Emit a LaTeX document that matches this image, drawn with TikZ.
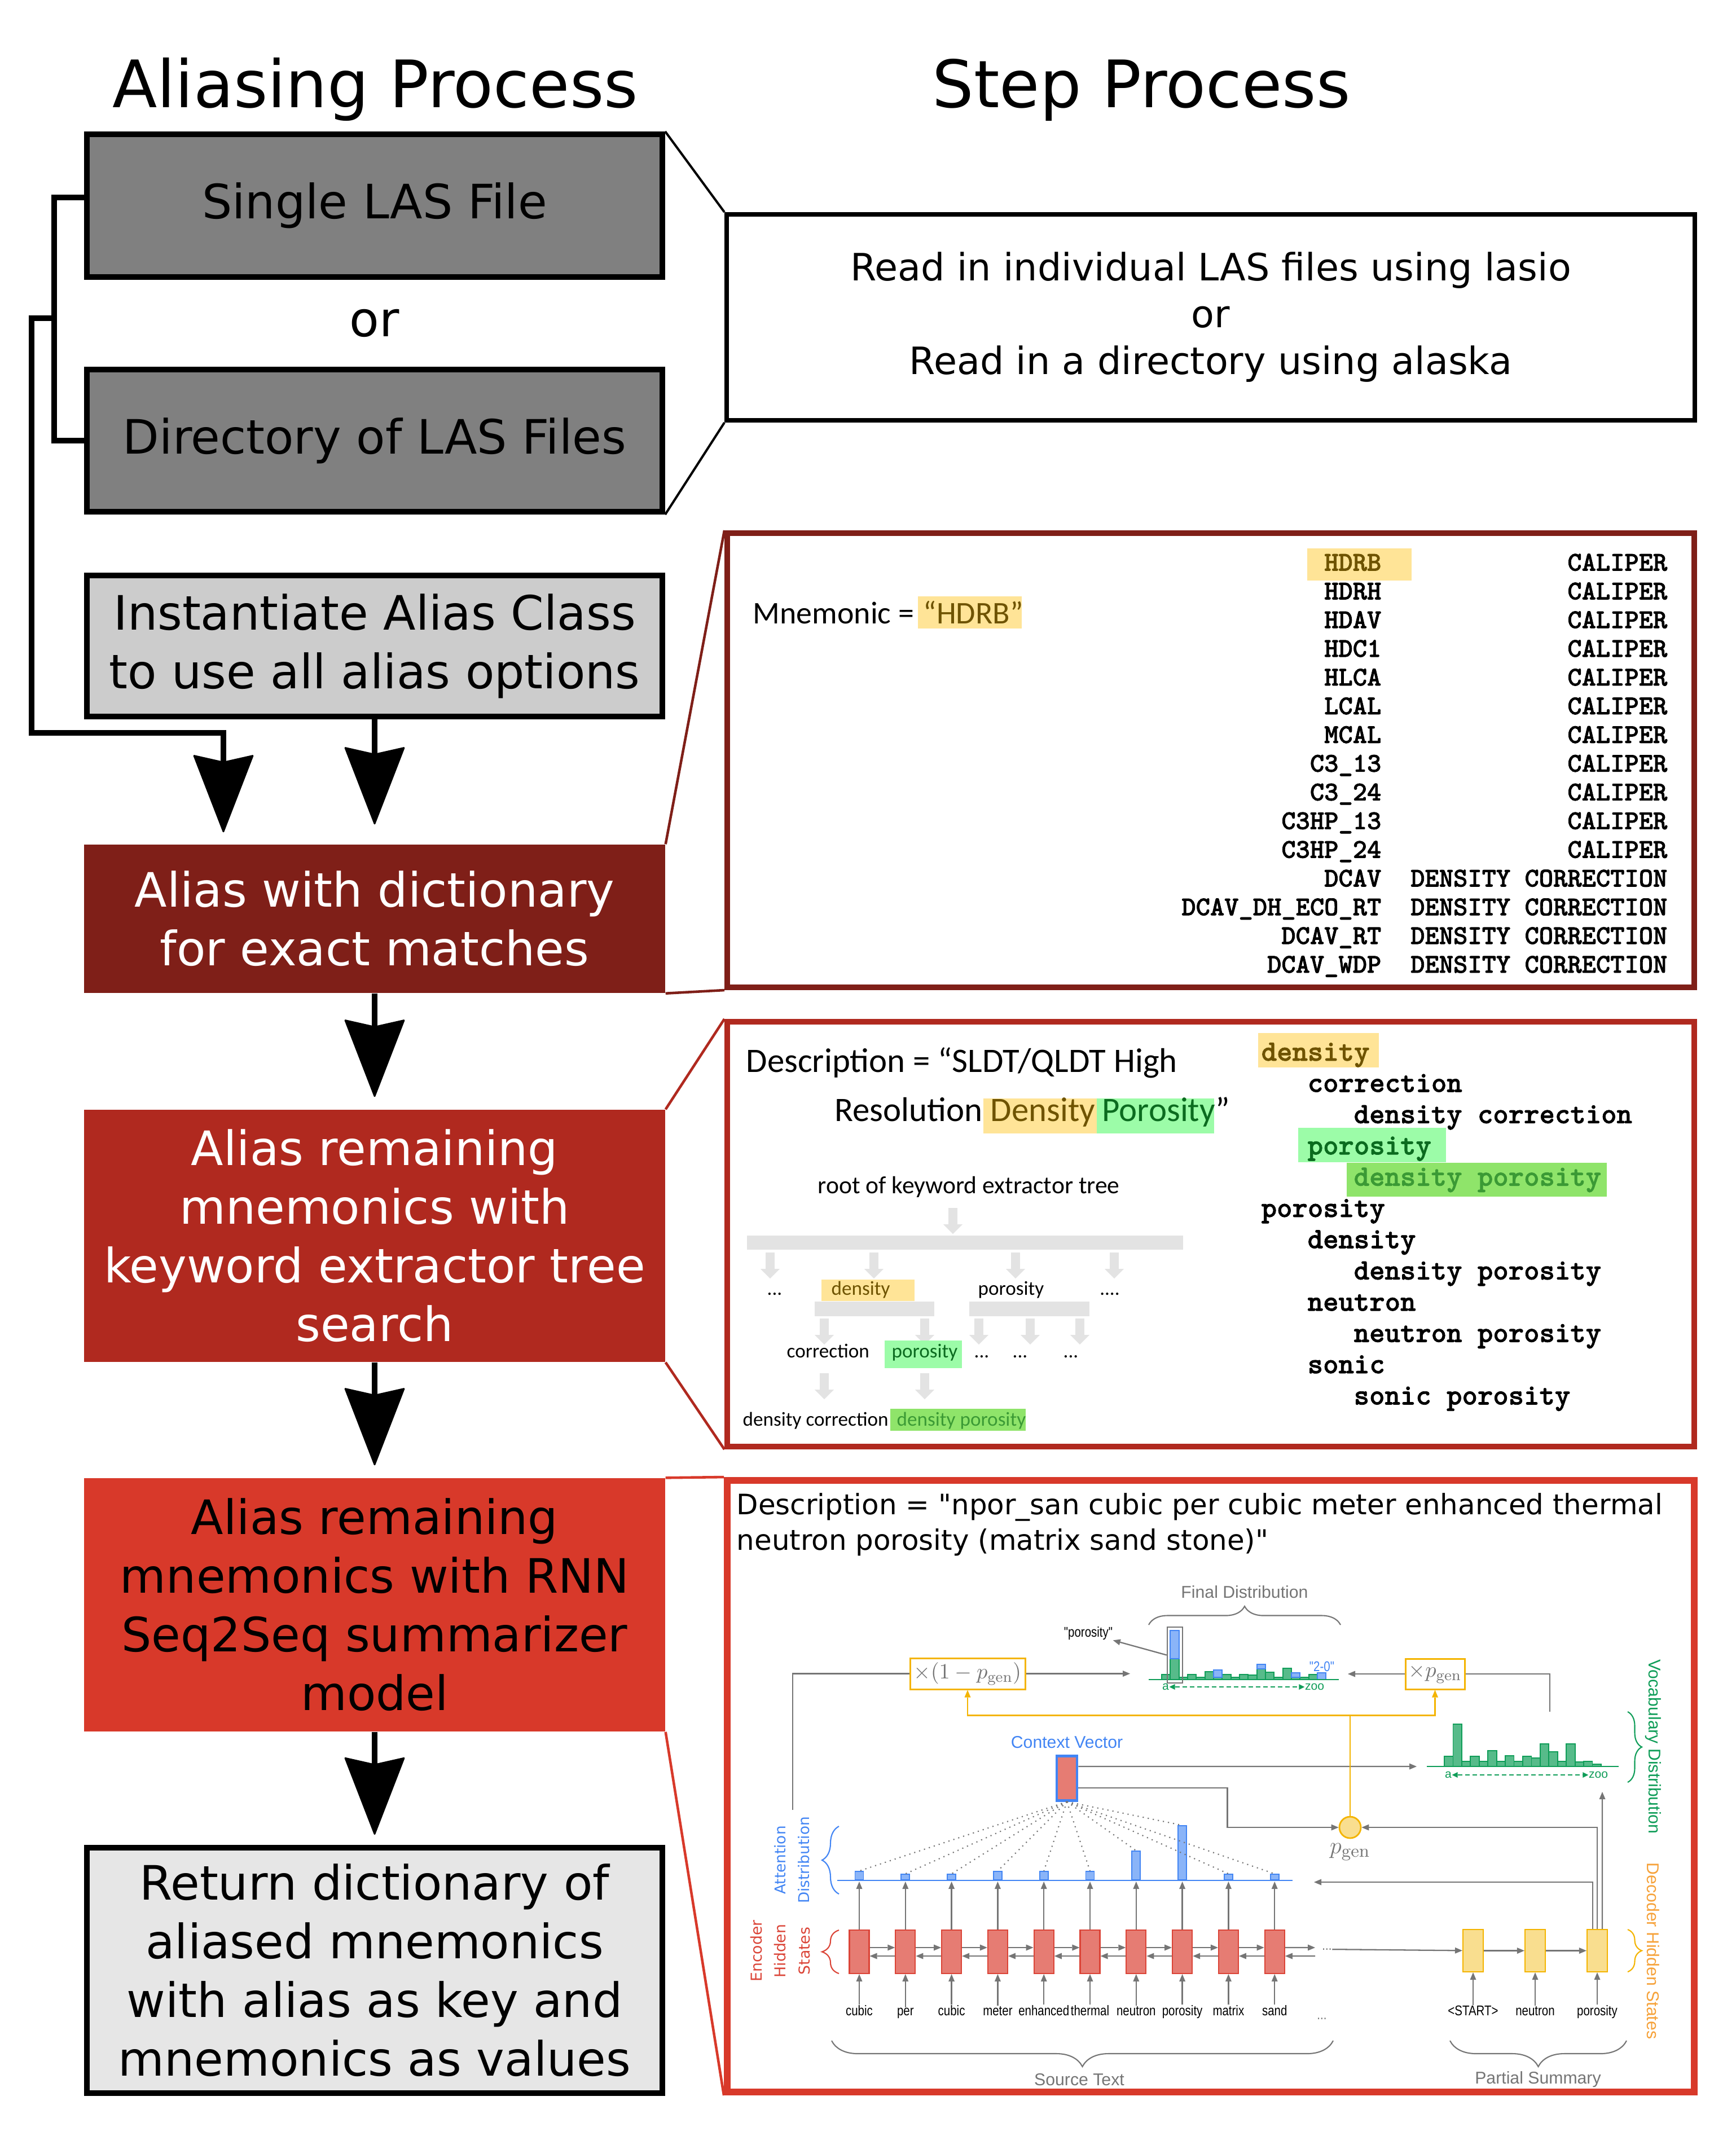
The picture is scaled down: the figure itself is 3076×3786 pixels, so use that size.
\documentclass[tikz,border=0pt]{standalone}
\usepackage{fontspec}
\usetikzlibrary{arrows.meta,decorations.pathreplacing,calc}
\newfontfamily\dejavu{DejaVu Sans}
\newfontfamily\carlito{Carlito}
\newfontfamily\libsans{Liberation Sans}
\newfontfamily\narrowsans{Liberation Sans}[FakeStretch=0.82]
\newfontfamily\monobold{lmmonolt10-bold}[Extension=.otf, FakeBold=1.5]
\definecolor{lasgray}{HTML}{808080}
\definecolor{instgray}{HTML}{CCCCCC}
\definecolor{retgray}{HTML}{E6E6E6}
\definecolor{dictred}{HTML}{7F1F18}
\definecolor{treered}{HTML}{B0291F}
\definecolor{rnnred}{HTML}{D8392A}
\definecolor{hlorange}{HTML}{FFE497}
\definecolor{hlmint}{HTML}{9CFCA8}
\definecolor{hlgreen}{HTML}{8FE46A}
\definecolor{txtbrown}{HTML}{6E5300}
\definecolor{txtdkgreen}{HTML}{0B6B1F}
\definecolor{txtgreen}{HTML}{3B9A35}
\definecolor{treegray}{HTML}{E3E3E3}
\definecolor{pgblue}{HTML}{4285F4}
\definecolor{pgbluefill}{HTML}{8AB4F8}
\definecolor{pgred}{HTML}{DB4437}
\definecolor{pgredfill}{HTML}{E67C73}
\definecolor{pgyellow}{HTML}{F4B400}
\definecolor{pgyellowfill}{HTML}{F9DE8F}
\definecolor{pggreen}{HTML}{0F9D58}
\definecolor{pggreenfill}{HTML}{57BB8A}
\definecolor{pgorange}{HTML}{F6A23A}
\definecolor{pggray}{HTML}{757575}

\begin{document}
\begin{tikzpicture}[x=0.1mm, y=-0.1mm,
    stepbox/.style={rectangle, minimum width=102mm, align=center, inner sep=0pt,
      font=\dejavu\fontsize{23.9}{29.6}\selectfont},
    outlined/.style={draw=black, line width=2.85pt},
    bigarrow/.style={line width=3pt, -{Stealth[length=14mm, width=10.8mm, inset=1.2mm, round, line width=0.8pt]}},
    bracket/.style={line width=2.85pt},
    joinline/.style={line width=1.15pt},
    panel/.style={rectangle, minimum width=171.4mm, line width=2.85pt, inner sep=0pt},
    panelline/.style={line width=1.3pt},
    calibri/.style={font=\carlito\fontsize{#1}{#1}\selectfont, inner sep=0pt},
    monoA/.style={font=\monobold\fontsize{13.7}{16}\selectfont, inner sep=0pt, anchor=base east},
    monoB/.style={font=\monobold\fontsize{14.85}{17}\selectfont, inner sep=0pt, anchor=base west},
    treearrow/.style={treegray, line width=4.5pt, -{Triangle[length=1.7mm, width=3.4mm, line width=0pt]}},
    pgline/.style={pggray, line width=0.65pt},
    pgarrow/.style={pgline, -{Triangle[length=1.3mm, width=1.1mm, line width=0pt]}},
    yline/.style={pgyellow, line width=0.8pt, -{Triangle[length=1.3mm, width=1.1mm, line width=0pt]}},
    dotline/.style={pggray, line width=0.6pt, dotted},
    pglabel/.style={font=\libsans\fontsize{8.6}{10}\selectfont, inner sep=0pt, text=pggray},
    wordlbl/.style={font=\narrowsans\fontsize{7.1}{8}\selectfont, inner sep=0pt},
    tinylbl/.style={font=\libsans\fontsize{6}{7}\selectfont, inner sep=0pt, text=pggreen},
    encstate/.style={rectangle, minimum width=3.5mm, minimum height=7.7mm, inner sep=0pt,
      fill=pgredfill, draw=pgred, line width=0.6pt},
    decstate/.style={rectangle, minimum width=3.6mm, minimum height=7.5mm, inner sep=0pt,
      fill=pgyellowfill, draw=pgyellow, line width=0.6pt},
    attbar/.style={rectangle, anchor=south, minimum width=1.5mm, inner sep=0pt,
      fill=pgbluefill, draw=pgblue, line width=0.5pt},
    pgbrace/.style={decorate, decoration={brace, amplitude=#1}, line width=0.6pt},
    mulbox/.style={rectangle, draw=pgyellow, fill=white, line width=0.85pt, inner sep=0pt,
      text=pggray, font=\fontsize{11}{13}\selectfont}]

    \path[use as bounding box, fill=white] (0,0) rectangle (3076,3786);

    % Titles
    \node (lefttitle) [font=\dejavu\fontsize{33}{40}\selectfont, anchor=base] at (665,190) {Aliasing Process};
    \node (righttitle) [font=\dejavu\fontsize{33}{40}\selectfont, anchor=base] at (2023,190) {Step Process};

    % Left column
    \node (single) [stepbox, outlined, fill=lasgray, minimum height=25.3mm] at (664,364.5) {Single LAS File};
    \node (ortext) [font=\dejavu\fontsize{24.5}{29}\selectfont, anchor=base] at (664,596) {or};
    \node (dir) [stepbox, outlined, fill=lasgray, minimum height=25.2mm] at (664,781) {Directory of LAS Files};
    \node (inst) [stepbox, outlined, fill=instgray, minimum height=25mm] at (664,1145) {Instantiate Alias Class\\to use all alias options};
    \node (dict) [stepbox, fill=dictred, text=white, minimum width=103mm, minimum height=26.3mm] at (664,1628.5) {Alias with dictionary\\for exact matches};
    \node (kwtree) [stepbox, fill=treered, text=white, minimum width=103mm, minimum height=44.7mm] at (664,2190.5) {Alias remaining\\mnemonics with\\keyword extractor tree\\search};
    \node (rnn) [stepbox, fill=rnnred, minimum width=103mm, minimum height=44.9mm] at (664,2844.5) {Alias remaining\\mnemonics with RNN\\Seq2Seq summarizer\\model};
    \node (ret) [stepbox, outlined, fill=retgray, minimum height=43.5mm] at (664,3492.5) {Return dictionary of\\aliased mnemonics\\with alias as key and\\mnemonics as values};

    % Left column arrows
    \coordinate (fork) at (101,564);
    \coordinate (bend) at (396,1299);
    \draw[bracket] ([yshift=1.45mm]single.west) -- ++(-53,0) |- (dir.west);
    \draw[bigarrow, shorten >=2.1mm] (fork) -- ++(-45,0) |- (bend) -- (bend |- dict.north);
    \draw[bigarrow, shorten >=3.5mm] (inst) -- (dict);
    \draw[bigarrow, shorten >=2.2mm] (dict) -- (kwtree);
    \draw[bigarrow, shorten >=2.2mm] (kwtree) -- (rnn);
    \draw[bigarrow, shorten >=1.8mm] (rnn) -- (ret);

    % Right column
    \node (read) [draw, line width=2.3pt, minimum width=171.6mm, minimum height=36.5mm, align=center,
      font=\dejavu\fontsize{19}{23.6}\selectfont] at (2146,562.5)
      {Read in individual LAS files using lasio\\or\\Read in a directory using alaska};
    \node (p1) [panel, draw=dictred, minimum height=80.5mm] at (2146,1347.5) {};
    \node (p2) [panel, draw=treered, minimum height=75.3mm] at (2146,2187.5) {};
    \node (p3) [panel, draw=rnnred, line width=3.4pt, minimum height=108.4mm] at (2146,3166) {};

    % Box to panel connectors
    \draw[joinline] (single.north east) -- (read.north west);
    \draw[joinline] (dir.south east) -- (read.south west);
    \draw[panelline, dictred] (dict.north east) -- (p1.north west);
    \draw[panelline, dictred] (dict.south east) -- (p1.south west);
    \draw[panelline, treered] (kwtree.north east) -- (p2.north west);
    \draw[panelline, treered] (kwtree.south east) -- (p2.south west);
    \draw[panelline, rnnred] (rnn.north east) -- (p3.north west);
    \draw[panelline, rnnred] (rnn.south east) -- (p3.south west);

    % Panel 1: exact matches
    \fill[hlorange] (1627,1057) rectangle (1811,1114);
    \node (mnem) [calibri=15.9, anchor=base west] at (1334,1105) {Mnemonic =};
    \node (mnemval) [calibri=15.9, anchor=base west, text=txtbrown] at (1636,1105) {“HDRB”};
    \fill[hlorange] (2317,972) rectangle (2502,1029);
    \foreach \mn/\ds/\col [count=\i from 0] in {HDRB/CALIPER/txtbrown, HDRH/CALIPER/black,
        HDAV/CALIPER/black, HDC1/CALIPER/black, HLCA/CALIPER/black, LCAL/CALIPER/black,
        MCAL/CALIPER/black, C3\_13/CALIPER/black, C3\_24/CALIPER/black, C3HP\_13/CALIPER/black,
        C3HP\_24/CALIPER/black, DCAV/DENSITY CORRECTION/black, DCAV\_DH\_ECO\_RT/DENSITY CORRECTION/black,
        DCAV\_RT/DENSITY CORRECTION/black, DCAV\_WDP/DENSITY CORRECTION/black} {
      \pgfmathsetmacro\yy{1011.5+50.9*\i}
      \node (mn\i) [monoA, text=\col] at (2449,\yy) {\mn};
      \node (ds\i) [monoA] at (2956,\yy) {\ds};
    }

    % Panel 2: keyword extractor tree
    \node (desc2a) [calibri=17.3, anchor=base west] at (1322,1900) {Description = “SLDT/QLDT High};
    \node (desc2b) [calibri=17.3, anchor=base west] at (1479,1987) {Resolution};
    \fill[hlorange] (1743,1947) rectangle (1944,2009);
    \fill[hlmint] (1944,1947) rectangle (2152,2009);
    \node (hldens) [calibri=17.3, anchor=base west, text=txtbrown] at (1755,1987) {Density};
    \node (hlporo) [calibri=17.3, anchor=base west, text=txtdkgreen] at (1953,1987) {Porosity};
    \node (desc2c) [calibri=17.3, anchor=base west] at (2154,1987) {”};
    \node (treeroot) [calibri=12.4, anchor=base west] at (1449,2115) {root of keyword extractor tree};
    \fill[treegray] (1324,2190) rectangle (2097,2215);
    \fill[treegray] (1444,2307) rectangle (1656,2333);
    \fill[treegray] (1718,2307) rectangle (1931,2333);
    \foreach \xx/\ya/\yb in {1689/2141/2187, 1365/2220/2266, 1549/2220/2266, 1800/2220/2266,
        1975/2220/2266, 1461/2337/2383, 1639/2337/2383, 1735/2337/2383, 1826/2337/2383,
        1914/2337/2383, 1461/2434/2480, 1639/2434/2480}
      \draw[treearrow] (\xx,\ya) -- (\xx,\yb);
    \fill[hlorange] (1456,2268) rectangle (1621,2306);
    \fill[hlmint] (1568,2376) rectangle (1705,2425);
    \fill[hlgreen] (1578,2497) rectangle (1818,2536);
    \node (tdots1) [calibri=10, anchor=base] at (1373,2295) {...};
    \node (tdens) [calibri=10, anchor=base west, text=txtbrown] at (1473,2295) {density};
    \node (tporo) [calibri=10, anchor=base west] at (1733,2295) {porosity};
    \node (tdots2) [calibri=10, anchor=base] at (1967,2295) {....};
    \node (tcorr) [calibri=10, anchor=base west] at (1394,2406) {correction};
    \node (tporo2) [calibri=10, anchor=base west, text=txtdkgreen] at (1580,2406) {porosity};
    \node (tdots3) [calibri=10, anchor=base] at (1740,2406) {...};
    \node (tdots4) [calibri=10, anchor=base] at (1808,2406) {...};
    \node (tdots5) [calibri=10, anchor=base] at (1898,2406) {...};
    \node (tdcorr) [calibri=10, anchor=base west] at (1316,2527) {density correction};
    \node (tdporo) [calibri=10, anchor=base west, text=txtgreen] at (1589,2527) {density porosity};
    \fill[hlorange] (2230,1831) rectangle (2444,1892);
    \fill[hlmint] (2301,1999) rectangle (2563,2060);
    \fill[hlgreen] (2387,2061) rectangle (2848,2121);
    \foreach \lvl/\kw/\col [count=\i from 0] in {0/density/txtbrown, 1/correction/black,
        2/density correction/black, 1/porosity/txtdkgreen, 2/density porosity/txtgreen,
        0/porosity/black, 1/density/black, 2/density porosity/black, 1/neutron/black,
        2/neutron porosity/black, 1/sonic/black, 2/sonic porosity/black} {
      \node (kw\i) [monoB, text=\col] at ({2235+82*\lvl},{1880+55.4*\i}) {\kw};
    }

    % Panel 3: pointer generator summarizer
    \node (desc3a) [font=\dejavu\fontsize{14.2}{17.9}\selectfont, inner sep=0pt, anchor=base west] at (1305,2684)
      {Description = "npor\_san cubic per cubic meter enhanced thermal};
    \node (desc3b) [font=\dejavu\fontsize{14.2}{17.9}\selectfont, inner sep=0pt, anchor=base west] at (1305,2747)
      {neutron porosity (matrix sand stone)"};

    % final distribution
    \node (finallbl) [pglabel] at (2206,2822) {Final Distribution};
    \draw[pgbrace=3.3mm, pggray] (2036,2880) -- (2376,2880);
    \foreach \h [count=\i from 0] in {9,37,4,9,4,14,4,9,4,9,8,19,13,4,20,4,4,9,0}
      \draw[pggreen, fill=pggreenfill, line width=0.5pt] ({2059+15.33*\i},2977) rectangle ++(15.33,-\h);
    \foreach \i/\lo/\hi in {1/37/87, 6/4/17, 11/19/27, 15/4/12, 18/0/12}
      \draw[pgblue, fill=pgbluefill, line width=0.5pt] ({2059+15.33*\i},{2977-\lo}) rectangle ++(15.33,{-(\hi-\lo)});
    \draw[pggreen, line width=0.7pt] (2036,2977) -- (2373,2977);
    \node (tallbox) [draw=pggray, line width=0.7pt, minimum width=2.7mm, minimum height=9.9mm, inner sep=0pt] at (2082.5,2933.5) {};
    \node (porolbl) [wordlbl] at (1929,2895) {"porosity"};
    \draw[pgarrow] (tallbox.west) -- (porolbl.south east);
    \node (twozero) [wordlbl, text=pgblue] at (2343,2954) {"2-0"};
    \node (fa) [tinylbl] at (2066,2990) {a};
    \node (fz) [tinylbl] at (2330,2990) {zoo};
    \draw[pggreen, line width=0.6pt, dash pattern=on 0.8mm off 0.5mm,
      {Triangle[length=1mm, width=1mm, line width=0pt]}-{Triangle[length=1mm, width=1mm, line width=0pt]}] (fa) -- (fz);

    % multiplier boxes
    \node (mulA) [mulbox, minimum width=20.4mm, minimum height=5.5mm] at (1715,2966.5) {$\times(1-p_{\mathrm{gen}})$};
    \node (mulB) [mulbox, minimum width=10.5mm, minimum height=5.4mm] at (2543.5,2967) {$\times p_{\mathrm{gen}}$};
    \coordinate (finalL) at (2003,2966.5);
    \coordinate (finalR) at (2389,2967);
    \coordinate (lstart) at (1405,3208);
    \coordinate (vocabtop) at (2747,3034);
    \draw[pgline] (lstart) |- (mulA.west);
    \draw[pgarrow] (mulA) -- (finalL);
    \draw[pgarrow] (mulB) -- (finalR);
    \draw[pgline] (mulB.east) -| (vocabtop);

    % vocabulary distribution
    \foreach \h [count=\i from 0] in {18,75,9,18,9,28,9,19,9,18,15,40,26,9,40,8,9,4}
      \draw[pggreen, fill=pggreenfill, line width=0.5pt] ({2560+15.44*\i},3131) rectangle ++(15.44,-\h);
    \draw[pggreen, line width=0.7pt] (2529,3131) -- (2869,3131);
    \node (va) [tinylbl] at (2567,3146) {a};
    \node (vz) [tinylbl] at (2833,3146) {zoo};
    \draw[pggreen, line width=0.6pt, dash pattern=on 0.8mm off 0.5mm,
      {Triangle[length=1mm, width=1mm, line width=0pt]}-{Triangle[length=1mm, width=1mm, line width=0pt]}] (va) -- (vz);
    \draw[pgbrace=2.5mm, pggreen] (2885,3034) -- (2885,3159);
    \node (vocablbl) [pglabel, rotate=-90, text=pggreen] at (2930,3096) {Vocabulary Distribution};

    % context vector and p_gen
    \node (ctxlbl) [pglabel, text=pgblue] at (1891,3088) {Context Vector};
    \node (ctx) [rectangle, minimum width=3.6mm, minimum height=7.9mm, inner sep=0pt,
      fill=pgredfill, draw=pgblue, line width=1.4pt] at (1891,3151.5) {};
    \node (pgen) [circle, minimum size=3.8mm, inner sep=0pt, fill=pgyellowfill, draw=pgyellow, line width=0.8pt] at (2393,3239) {};
    \node (pgenlbl) [text=pggray, font=\fontsize{13}{15}\selectfont, inner sep=0pt] at (2393,3283) {$p_{\mathrm{gen}}$};
    \coordinate (vocabL) at (2511,3131);
    \draw[pgarrow] ([yshift=2.05mm]ctx.east) -- (vocabL);
    \draw[pgarrow] ([yshift=-1.75mm]ctx.east) -- ++(264,0) |- (pgen);
    \draw[yline] (pgen.north) -- ++(0,-178) -| (mulA.south);
    \draw[yline] (pgen.north) -- ++(0,-178) -| (mulB.south);

    % attention distribution
    \coordinate (attl) at (1484,3335);
    \draw[pgblue, line width=0.8pt] (1484,3333) -- (2291,3333);
    \foreach \h [count=\i] in {15,10,10,15,15,15,51,96,10,10} {
      \pgfmathsetmacro\xx{1523+81.8*(\i-1)}
      \pgfmathsetmacro\hh{\h/10}
      \node (att\i) [attbar, minimum height=\hh mm] at (\xx,3333) {};
      \draw[dotline] (ctx.south) -- (att\i.north);
    }
    \draw[pgbrace=3mm, pgblue] (1487,3357) -- (1487,3237);
    \node (attlbl) [rotate=90, align=center, font=\dejavu\fontsize{7.5}{12}\selectfont, text=pgblue, inner sep=0pt] at (1404,3297) {Attention\\Distribution};

    % encoder
    \foreach \w [count=\i] in {cubic,per,cubic,meter,enhanced,thermal,neutron,porosity,matrix,sand} {
      \pgfmathsetmacro\xx{1523+81.8*(\i-1)}
      \node (enc\i) [encstate] at (\xx,3459.5) {};
      \node (w\i) [wordlbl, anchor=base] at (\xx,3572) {\w};
      \draw[pgarrow] (w\i) -- (enc\i);
      \draw[pgarrow] (enc\i.north) -- (enc\i.north |- attl);
    }
    \foreach \i [evaluate=\i as \j using int(\i+1)] in {1,...,9} {
      \draw[pgarrow] ([yshift=0.75mm]enc\i.east) -- ([yshift=0.75mm]enc\j.west);
      \draw[pgarrow] ([yshift=-0.75mm]enc\j.west) -- ([yshift=-0.75mm]enc\i.east);
    }
    \coordinate (encR) at (2331,3452);
    \coordinate (encL) at (2331,3467);
    \draw[pgarrow] ([yshift=0.75mm]enc10.east) -- (encR);
    \draw[pgarrow] (encL) -- ([yshift=-0.75mm]enc10.east);
    \node (encdots) [wordlbl, text=pggray] at (2352,3455) {...};
    \node (srcdots) [wordlbl, text=pggray] at (2343,3578) {...};
    \draw[pgbrace=3mm, pgred] (1487,3498) -- (1487,3421);
    \node (enclbl) [rotate=90, align=center, font=\dejavu\fontsize{7.6}{12}\selectfont, text=pgred, inner sep=0pt] at (1383,3458) {Encoder\\Hidden\\States};

    % decoder
    \foreach \w [count=\i] in {<START>,neutron,porosity} {
      \pgfmathsetmacro\xx{2611+110*(\i-1)}
      \node (dec\i) [decstate] at (\xx,3457.5) {};
      \node (dw\i) [wordlbl, anchor=base] at (\xx,3572) {\w};
      \draw[pgarrow] (dw\i) -- (dec\i);
    }
    \draw[pgarrow] (encdots) -- (dec1);
    \draw[pgarrow] (dec1) -- (dec2);
    \draw[pgarrow] (dec2) -- (dec3);
    \coordinate (attR) at (2329,3336);
    \coordinate (vocabB) at (2840,3176);
    \draw[pgarrow] ([xshift=-0.8mm]dec3.north) |- (attR);
    \draw[pgarrow] (dec3.north) |- (pgen);
    \draw[pgarrow] ([xshift=0.9mm]dec3.north) -- (vocabB);
    \draw[pgbrace=2.5mm, pgyellow] (2885,3420) -- (2885,3495);
    \node (declbl) [pglabel, rotate=-90, text=pgorange] at (2930,3458) {Decoder Hidden States};

    % source and summary braces
    \draw[pgbrace=4.6mm, pggray] (2363,3617) -- (1474,3617);
    \draw[pgbrace=4.6mm, pggray] (2883,3617) -- (2570,3617);
    \node (srclbl) [pglabel] at (1913,3686) {Source Text};
    \node (sumlbl) [pglabel] at (2726,3686) {Partial Summary};
\end{tikzpicture}
\end{document}
